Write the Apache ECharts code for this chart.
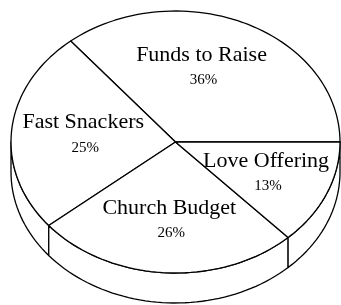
<!DOCTYPE html>
<html>
<head>
<meta charset="utf-8">
<script src="https://cdn.jsdelivr.net/npm/echarts@6/dist/echarts.min.js"></script>
<style>
  html, body { margin: 0; background: #fff; }
  #chart { width: 341px; height: 305px; }
</style>
</head>
<body>
<div id="chart"></div>
<script>
const categories = ['Funds to Raise', 'Fast Snackers', 'Church Budget', 'Love Offering']
const percents = [36, 25, 26, 13]

// tilted pie, in plot units (hidden axes run 0..341 x 0..305)
const cx = 175.5, cy = 142, rx = 164.5, ry = 131, depth = 30
const labelR = 0.6
// a couple of labels sit off their slice's mid line in the original
const labelNudge = { 'Funds to Raise': [-16, -4], 'Fast Snackers': [6, 0] }

const total = percents.reduce((a, b) => a + b, 0)
const starts = []
percents.reduce((acc, v) => { starts.push(acc); return acc + v }, 0)

function rim(api, a0, a1, dy) {
  const pts = []
  const n = Math.max(2, Math.ceil(Math.abs(a1 - a0) / 2))
  for (let i = 0; i <= n; i++) {
    const t = (a0 + (a1 - a0) * i / n) * Math.PI / 180
    pts.push(api.coord([cx + rx * Math.cos(t), cy - ry * Math.sin(t) + dy]))
  }
  return pts
}

const lineStyle = { fill: '#fff', stroke: '#000', lineWidth: 1.3, lineJoin: 'round' }

function renderItem(params, api) {
  const i = params.dataIndex
  const a0 = starts[i] / total * 360
  const a1 = a0 + api.value(0) / total * 360
  const children = []

  // front wall, only the part facing the viewer (180..360 deg)
  const lo = Math.max(a0, 180), hi = Math.min(a1, 360)
  if (hi > lo) {
    children.push({
      type: 'polygon',
      shape: { points: rim(api, lo, hi, 0).concat(rim(api, hi, lo, depth)) },
      style: lineStyle
    })
  }

  // top face
  children.push({
    type: 'polygon',
    shape: { points: [api.coord([cx, cy])].concat(rim(api, a0, a1, 0)) },
    style: lineStyle
  })

  const mid = (a0 + a1) / 2 * Math.PI / 180
  const nudge = labelNudge[categories[i]] || [0, 0]
  const p = api.coord([
    cx + rx * labelR * Math.cos(mid) + nudge[0],
    cy - ry * labelR * Math.sin(mid) + nudge[1]
  ])
  children.push({
    type: 'text',
    style: {
      text: categories[i], x: p[0], y: p[1] - 12,
      fontFamily: 'Liberation Serif', fontSize: 22, fill: '#000',
      align: 'center', verticalAlign: 'middle'
    }
  })
  children.push({
    type: 'text',
    style: {
      text: api.value(0) + '%', x: p[0] + 2, y: p[1] + 13,
      fontFamily: 'Liberation Serif', fontSize: 15, fill: '#000',
      align: 'center', verticalAlign: 'middle'
    }
  })
  return { type: 'group', children }
}

const chart = echarts.init(document.getElementById('chart'))
chart.setOption({
  animation: false,
  backgroundColor: '#fff',
  grid: { left: 0, right: 0, top: 0, bottom: 0 },
  xAxis: { type: 'value', min: 0, max: 341, show: false },
  yAxis: { type: 'value', min: 0, max: 305, inverse: true, show: false },
  series: [{
    type: 'custom',
    renderItem,
    data: percents.map((v, i) => ({ name: categories[i], value: [v] })),
    encode: { x: -1, y: -1 }
  }]
})
</script>
</body>
</html>
